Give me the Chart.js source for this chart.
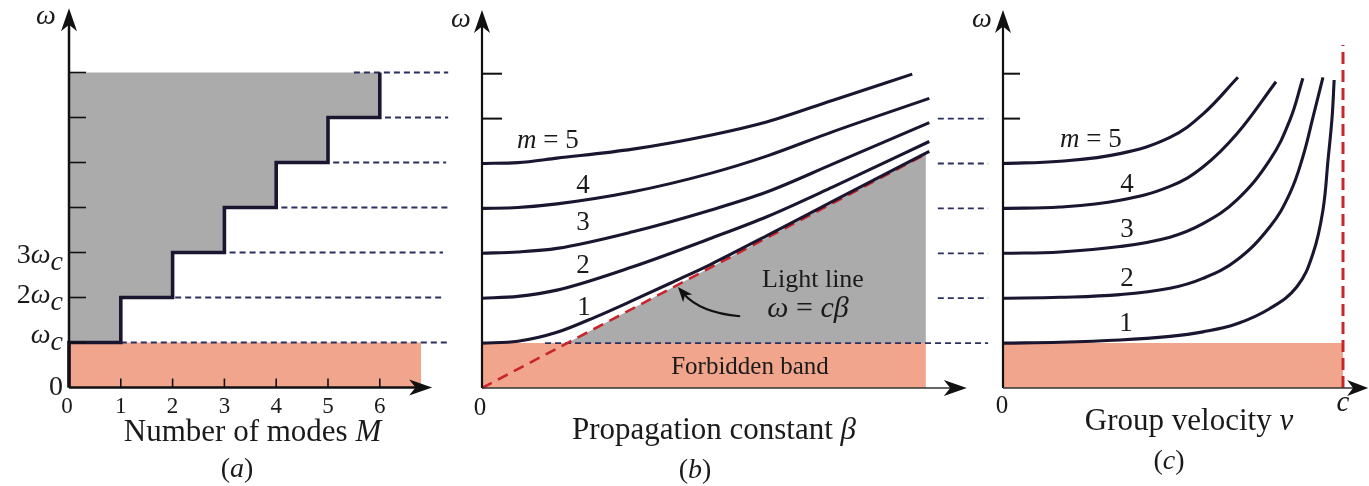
<!DOCTYPE html>
<html><head><meta charset="utf-8">
<script src="https://cdn.jsdelivr.net/npm/chart.js@4.4.1/dist/chart.umd.min.js"></script>
<style>
html,body{margin:0;padding:0;background:#fff;width:1369px;height:486px;overflow:hidden;}
canvas{position:absolute;top:0;}
</style></head><body>
<canvas id="ca" width="460" height="486" style="left:0px;width:460px;height:486px"></canvas>
<canvas id="cb" width="550" height="486" style="left:445px;width:550px;height:486px"></canvas>
<canvas id="cc" width="409" height="486" style="left:960px;width:409px;height:486px"></canvas>
<script>
// ================= DATA =================
// (a) Number of modes M versus angular frequency (units of ωc)
const modeNumbers  = [0, 1, 2, 3, 4, 5, 6];     // M reached at each cutoff
const cutoffLevels = [1, 2, 3, 4, 5, 6, 7];     // ω/ωc where M steps up
const forbiddenTop = 1;                         // ω = ωc
const aXTickLabels = ['0', '1', '2', '3', '4', '5', '6'];
const aYTickLabels = ['0', 'ω_c', '2ω_c', '3ω_c'];
const aDashStart   = [1.0, 2.05, 3.1, 4.1, 5.1, 6.1, 5.5];
const aDashEnd     = [7.32, 7.22, 7.22, 7.32, 7.28, 7.32, 7.32];
const aBandEnd     = 6.8;

// (b) Dispersion ω(β), β in units where the light line is ω = β
const bBeta1  = [0, 0.42, 0.88, 1.33, 1.77, 2.24, 2.68, 3.35, 4.12, 5.25];
const bOmega1 = [1.0, 1.04, 1.24, 1.58, 1.95, 2.36, 2.75, 3.40, 4.16, 5.27];
const bBeta2  = [0, 0.42, 0.88, 1.77, 2.68, 3.35, 4.12, 5.25];
const bOmega2 = [2.0, 2.04, 2.18, 2.70, 3.33, 3.82, 4.48, 5.49];
const bBeta3  = [0, 0.42, 0.88, 1.77, 2.68, 3.35, 4.12, 5.25];
const bOmega3 = [3.0, 3.03, 3.11, 3.48, 3.96, 4.37, 4.99, 5.91];
const bBeta4  = [0, 0.42, 0.88, 1.77, 2.68, 3.35, 4.12, 5.25];
const bOmega4 = [4.0, 4.02, 4.10, 4.37, 4.78, 5.17, 5.71, 6.45];
const bBeta5  = [0, 0.42, 0.88, 1.77, 2.68, 3.35, 4.12, 5.05];
const bOmega5 = [5.0, 5.02, 5.12, 5.32, 5.63, 5.93, 6.41, 6.99];
const lightBeta  = [0, 5.21];
const lightOmega = [0, 5.21];
const bDashStart = [0.74, 5.35, 5.35, 5.35, 5.35, 5.35];
const bDashEnd   = [5.94, 5.94, 5.94, 5.94, 5.94, 5.94];

// (c) Group velocity v (units of c) versus ω
const cV1 = [0, 0.168, 0.344, 0.491, 0.588, 0.688, 0.785, 0.865, 0.912, 0.941, 0.956, 0.968, 0.974];
const cW1 = [1.0, 1.02, 1.07, 1.15, 1.25, 1.43, 1.77, 2.26, 3.00, 3.96, 5.08, 6.04, 6.86];
const cV2 = [0, 0.168, 0.344, 0.491, 0.588, 0.688, 0.785, 0.844, 0.882, 0.912, 0.941];
const cW2 = [2.0, 2.02, 2.08, 2.22, 2.44, 2.85, 3.59, 4.34, 5.15, 6.04, 6.92];
const cV3 = [0, 0.168, 0.344, 0.491, 0.588, 0.688, 0.785, 0.844, 0.882];
const cW3 = [3.0, 3.03, 3.15, 3.36, 3.66, 4.19, 5.08, 5.97, 6.90];
const cV4 = [0, 0.168, 0.344, 0.491, 0.588, 0.688, 0.803];
const cW4 = [4.0, 4.03, 4.18, 4.49, 4.92, 5.66, 6.82];
const cV5 = [0, 0.168, 0.344, 0.491, 0.588, 0.691];
const cW5 = [5.0, 5.05, 5.22, 5.58, 6.10, 6.92];
const speedOfLight = 1;
const cAsymptoteTop = 7.64;

// ================= STYLE / HELPERS =================
const FAM = '"Liberation Serif","Times New Roman",serif';
const INK = '#1a1a1a';
const CURVE = '#1b1530';
const DASH = '#2a2f5e';
const RED = '#c9262c';
const GRAY = '#ababab';
const PINK = '#f1a58d';

function pts(xs, ys) { return xs.map((x, k) => ({x, y: ys[k]})); }
function ds(data, o) {
  return Object.assign({data, showLine: true, pointRadius: 0, pointHoverRadius: 0,
    borderColor: CURVE, borderWidth: 3.1, fill: false, tension: 0, order: 1}, o || {});
}
function line(ctx, x1, y1, x2, y2) { ctx.beginPath(); ctx.moveTo(x1, y1); ctx.lineTo(x2, y2); ctx.stroke(); }
function arrowHead(ctx, tx, ty, dx, dy, len, hw, color) {
  const bx = tx - dx * len, by = ty - dy * len, nx = -dy, ny = dx;
  const mx = tx - dx * len * 0.72, my = ty - dy * len * 0.72;
  ctx.beginPath(); ctx.moveTo(tx, ty); ctx.lineTo(bx + nx * hw, by + ny * hw);
  ctx.lineTo(mx, my); ctx.lineTo(bx - nx * hw, by - ny * hw); ctx.closePath();
  ctx.fillStyle = color; ctx.fill();
}
function R(t) { return {t, i: false}; }
function I(t, dy) { return {t, i: true, dy: dy || 0}; }
function rich(ctx, parts, x, y, size, align) {
  const ws = parts.map(p => { ctx.font = (p.i ? 'italic ' : '') + size + 'px ' + FAM; return ctx.measureText(p.t).width; });
  const total = ws.reduce((a, b) => a + b, 0);
  let cx = align === 'center' ? x - total / 2 : align === 'right' ? x - total : x;
  ctx.textAlign = 'left'; ctx.textBaseline = 'alphabetic'; ctx.fillStyle = INK;
  parts.forEach((p, k) => { ctx.font = (p.i ? 'italic ' : '') + size + 'px ' + FAM; ctx.fillText(p.t, cx, y + (p.dy || 0)); cx += ws[k]; });
}
function labelParts(lbl) {
  const out = []; let sub = false;
  for (const ch of lbl) {
    if (ch === '_') { sub = true; continue; }
    if (/[0-9]/.test(ch)) out.push(R(ch)); else out.push(I(ch, sub ? 7 : 0));
  }
  return out;
}
function baseOptions(xmin, xmax, ymin, ymax, pad) {
  return {
    responsive: false, animation: false, events: [],
    layout: {padding: pad},
    plugins: {legend: {display: false}, tooltip: {enabled: false}, title: {display: false}},
    scales: {
      x: {type: 'linear', display: false, min: xmin, max: xmax},
      y: {type: 'linear', display: false, min: ymin, max: ymax}
    }
  };
}

// ================= PANEL (a) =================
const stair = [{x: 0, y: 0}];
modeNumbers.forEach((m, k) => {
  stair.push({x: m, y: cutoffLevels[k]});
  if (k < modeNumbers.length - 1) stair.push({x: modeNumbers[k + 1], y: cutoffLevels[k]});
});
const aDatasets = [
  ds(stair, {borderWidth: 3.6, order: 1}),
  ds(stair.slice(1), {borderWidth: 0, borderColor: 'rgba(0,0,0,0)', backgroundColor: GRAY,
    fill: {value: cutoffLevels[cutoffLevels.length - 1]}, order: 10}),
  ds(pts([0, aBandEnd], [forbiddenTop, forbiddenTop]), {borderWidth: 0, borderColor: 'rgba(0,0,0,0)',
    backgroundColor: PINK, fill: {value: 0}, order: 11})
];
cutoffLevels.forEach((l, k) => aDatasets.push(ds(pts([aDashStart[k], aDashEnd[k]], [l, l]),
  {borderColor: DASH, borderWidth: 1.8, borderDash: [6, 4], order: 5})));

const panelA = {
  id: 'panelA',
  afterDatasetsDraw(chart) {
    const ctx = chart.ctx, X = v => chart.scales.x.getPixelForValue(v), Y = v => chart.scales.y.getPixelForValue(v);
    ctx.save();
    ctx.strokeStyle = '#111'; ctx.lineWidth = 2.5;
    line(ctx, X(0), Y(0), X(0), Y(8.43) + 16);
    arrowHead(ctx, X(0), Y(8.43), 0, -1, 23, 8, '#111');
    line(ctx, X(0), Y(0), X(7.01) - 16, Y(0));
    arrowHead(ctx, X(7.01), Y(0), 1, 0, 23, 8, '#111');
    ctx.lineWidth = 1.6;
    cutoffLevels.forEach(l => line(ctx, X(0), Y(l), X(0) + 17, Y(l)));
    modeNumbers.slice(1).forEach(m => line(ctx, X(m), Y(0), X(m), Y(0) - 9));
    aXTickLabels.forEach((t, k) => rich(ctx, [R(t)], X(k) - (k === 0 ? 2 : 0), Y(0) + 25.5, 23, 'center'));
    const yOff = [7.5, 0, 5, 10];
    aYTickLabels.forEach((t, k) => rich(ctx, labelParts(t), X(0) - 6, Y(k) + yOff[k], 28, 'right'));
    rich(ctx, [I('ω')], 46, 24, 28, 'center');
    rich(ctx, [R('Number of modes '), I('M')], 252.5, 441, 31, 'center');
    rich(ctx, [R('('), I('a'), R(')')], 237, 477, 28, 'center');
    ctx.restore();
  }
};
// x: -0.5..7.5 @51.8px, origin 69 ; y: -0.5..8.5 @45px, origin 387.5
new Chart(document.getElementById('ca'), {
  type: 'line', data: {datasets: aDatasets},
  options: baseOptions(-0.5, 7.5, -0.5, 8.5, {left: 43.1, right: 2.5, top: 5, bottom: 76}),
  plugins: [panelA]
});

// ================= PANEL (b) =================
const OB = 445;
const lastLight = lightBeta[lightBeta.length - 1];
const bDatasets = [
  ds(pts(bBeta1, bOmega1), {cubicInterpolationMode: 'monotone'}),
  ds(pts(bBeta2, bOmega2), {cubicInterpolationMode: 'monotone'}),
  ds(pts(bBeta3, bOmega3), {cubicInterpolationMode: 'monotone'}),
  ds(pts(bBeta4, bOmega4), {cubicInterpolationMode: 'monotone'}),
  ds(pts(bBeta5, bOmega5), {cubicInterpolationMode: 'monotone'}),
  ds(pts(lightBeta, lightOmega), {borderColor: RED, borderWidth: 2.6, borderDash: [11, 7], order: 2}),
  ds(pts([forbiddenTop, lastLight], [forbiddenTop, lightOmega[lightOmega.length - 1]]),
    {borderWidth: 0, borderColor: 'rgba(0,0,0,0)', backgroundColor: GRAY, fill: {value: forbiddenTop}, order: 10}),
  ds(pts([0, lastLight], [forbiddenTop, forbiddenTop]), {borderWidth: 0, borderColor: 'rgba(0,0,0,0)',
    backgroundColor: PINK, fill: {value: 0}, order: 11})
];
bDashStart.forEach((s, k) => bDatasets.push(ds(pts([s, bDashEnd[k]], [cutoffLevels[k], cutoffLevels[k]]),
  {borderColor: DASH, borderWidth: 1.8, borderDash: [6, 4], order: 5})));

const panelB = {
  id: 'panelB',
  afterDatasetsDraw(chart) {
    const ctx = chart.ctx, X = v => chart.scales.x.getPixelForValue(v), Y = v => chart.scales.y.getPixelForValue(v);
    const P = x => x - OB;
    ctx.save();
    ctx.strokeStyle = '#111'; ctx.lineWidth = 2.2;
    line(ctx, X(0), Y(0), X(0), Y(8.42) + 16);
    arrowHead(ctx, X(0), Y(8.42), 0, -1, 23, 8, '#111');
    ctx.strokeStyle = '#333'; ctx.lineWidth = 1.5;
    line(ctx, X(0), Y(0), X(5.69) - 16, Y(0));
    arrowHead(ctx, X(5.69), Y(0), 1, 0, 23, 8, '#111');
    ctx.strokeStyle = '#111'; ctx.lineWidth = 2;
    [6, 7].forEach(l => line(ctx, X(0), Y(l), X(0) + 20, Y(l)));
    // curved pointer to light line
    const sx = X(3.03), sy = Y(1.60), cx = X(2.56), cy = Y(1.67), tx = X(2.30), ty = Y(2.25);
    ctx.lineWidth = 2; ctx.strokeStyle = '#111';
    ctx.beginPath(); ctx.moveTo(sx, sy); ctx.quadraticCurveTo(cx, cy, tx + 5, ty + 6); ctx.stroke();
    const dx = tx - cx, dy = ty - cy, dl = Math.hypot(dx, dy);
    arrowHead(ctx, tx, ty, dx / dl, dy / dl, 15, 6, '#111');
    rich(ctx, [R('0')], P(480), 415, 25, 'center');
    rich(ctx, [I('ω')], P(461), 27, 28, 'center');
    rich(ctx, [I('m'), R(' = 5')], P(517), 148, 27, 'left');
    rich(ctx, [R('4')], P(583), 193, 27, 'center');
    rich(ctx, [R('3')], P(583), 230, 27, 'center');
    rich(ctx, [R('2')], P(583), 273, 27, 'center');
    rich(ctx, [R('1')], P(584), 315, 27, 'center');
    rich(ctx, [R('Light line')], P(813), 287, 26, 'center');
    rich(ctx, [I('ω'), R(' = '), I('cβ')], P(808), 317, 30, 'center');
    rich(ctx, [R('Forbidden band')], P(750), 374, 25, 'center');
    rich(ctx, [R('Propagation constant '), I('β')], P(714), 439, 31, 'center');
    rich(ctx, [R('('), I('b'), R(')')], P(695), 478, 28, 'center');
    ctx.restore();
  }
};
// origin x=482 (canvas 37), 85.2px/unit ; y origin 388, 44.9px/unit
new Chart(document.getElementById('cb'), {
  type: 'line', data: {datasets: bDatasets},
  options: baseOptions(-0.25, 5.96, -0.3, 8.5, {left: 15.7, right: 5.2, top: 6.35, bottom: 84.53}),
  plugins: [panelB]
});

// ================= PANEL (c) =================
const OC = 960;
const vCurve = {tension: 0.4};
const cDatasets = [
  ds(pts(cV1, cW1), vCurve),
  ds(pts(cV2, cW2), vCurve),
  ds(pts(cV3, cW3), vCurve),
  ds(pts(cV4, cW4), vCurve),
  ds(pts(cV5, cW5), vCurve),
  ds(pts([speedOfLight, speedOfLight], [0, cAsymptoteTop]), {borderColor: RED, borderWidth: 3, borderDash: [12, 6], order: 2}),
  ds(pts([0, speedOfLight], [forbiddenTop, forbiddenTop]), {borderWidth: 0, borderColor: 'rgba(0,0,0,0)',
    backgroundColor: PINK, fill: {value: 0}, order: 11})
];
const panelC = {
  id: 'panelC',
  afterDatasetsDraw(chart) {
    const ctx = chart.ctx, X = v => chart.scales.x.getPixelForValue(v), Y = v => chart.scales.y.getPixelForValue(v);
    const P = x => x - OC;
    ctx.save();
    ctx.strokeStyle = '#111'; ctx.lineWidth = 2.2;
    line(ctx, X(0), Y(0), X(0), Y(8.42) + 16);
    arrowHead(ctx, X(0), Y(8.42), 0, -1, 23, 8, '#111');
    ctx.strokeStyle = '#333'; ctx.lineWidth = 1.5;
    line(ctx, X(0), Y(0), X(1.074) - 14, Y(0));
    arrowHead(ctx, X(1.074), Y(0), 1, 0, 21, 8, '#111');
    ctx.strokeStyle = '#111'; ctx.lineWidth = 2;
    [6, 7].forEach(l => line(ctx, X(0), Y(l), X(0) + 17, Y(l)));
    rich(ctx, [R('0')], P(1002), 413, 25, 'center');
    rich(ctx, [I('c')], X(speedOfLight), 411, 29, 'center');
    rich(ctx, [I('ω')], P(982), 27, 28, 'center');
    rich(ctx, [I('m'), R(' = 5')], P(1060), 147, 27, 'left');
    rich(ctx, [R('4')], P(1127), 192, 27, 'center');
    rich(ctx, [R('3')], P(1127), 237, 27, 'center');
    rich(ctx, [R('2')], P(1127), 286, 27, 'center');
    rich(ctx, [R('1')], P(1126), 331, 27, 'center');
    rich(ctx, [R('Group velocity '), I('v')], P(1189), 430, 31, 'center');
    rich(ctx, [R('('), I('c'), R(')')], P(1169), 469, 28, 'center');
    ctx.restore();
  }
};
// origin x=1003 (canvas 43), 340px per c ; y origin 388, 44.9px/unit
new Chart(document.getElementById('cc'), {
  type: 'line', data: {datasets: cDatasets},
  options: baseOptions(-0.05, 1.07, -0.3, 8.5, {left: 26, right: 2.2, top: 6.35, bottom: 84.53}),
  plugins: [panelC]
});
</script>
</body></html>
